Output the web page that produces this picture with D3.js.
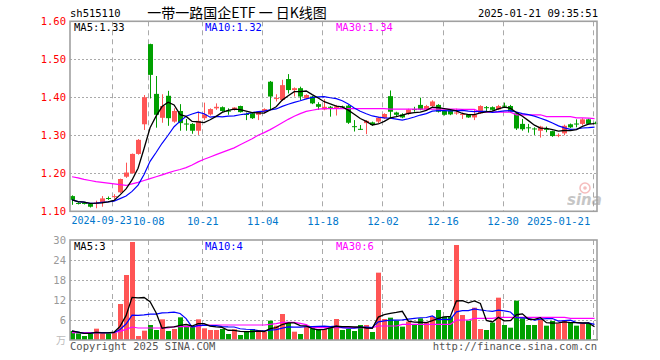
<!DOCTYPE html>
<html><head><meta charset="utf-8">
<script src="https://cdn.jsdelivr.net/npm/d3@7"></script>
<style>
body{margin:0;background:#fff;}
svg{display:block;}
.mono{font-family:"DejaVu Sans Mono","Liberation Mono",monospace;font-size:10px;}
</style>
</head><body>
<svg id="c" width="660" height="360"></svg>
<script>
// ---------- DATA ----------
const dates = ["2024-09-10","2024-09-11","2024-09-12","2024-09-13","2024-09-18","2024-09-19","2024-09-20","2024-09-23","2024-09-24","2024-09-25",
"2024-09-26","2024-09-27","2024-09-30","2024-10-08","2024-10-09","2024-10-10","2024-10-11","2024-10-14","2024-10-15","2024-10-16",
"2024-10-17","2024-10-18","2024-10-21","2024-10-22","2024-10-23","2024-10-24","2024-10-25","2024-10-28","2024-10-29","2024-10-30",
"2024-10-31","2024-11-01","2024-11-04","2024-11-05","2024-11-06","2024-11-07","2024-11-08","2024-11-11","2024-11-12","2024-11-13",
"2024-11-14","2024-11-15","2024-11-18","2024-11-19","2024-11-20","2024-11-21","2024-11-22","2024-11-25","2024-11-26","2024-11-27",
"2024-11-28","2024-11-29","2024-12-02","2024-12-03","2024-12-04","2024-12-05","2024-12-06","2024-12-09","2024-12-10","2024-12-11",
"2024-12-12","2024-12-13","2024-12-16","2024-12-17","2024-12-18","2024-12-19","2024-12-20","2024-12-23","2024-12-24","2024-12-25",
"2024-12-26","2024-12-27","2024-12-30","2024-12-31","2025-01-02","2025-01-03","2025-01-06","2025-01-07","2025-01-08","2025-01-09",
"2025-01-10","2025-01-13","2025-01-14","2025-01-15","2025-01-16","2025-01-17","2025-01-20","2025-01-21"];

const opens = [1.140,1.122,1.122,1.119,1.121,1.124,1.135,1.139,1.150,1.191,
1.200,1.251,1.329,1.540,1.409,1.346,1.404,1.336,1.364,1.331,
1.330,1.312,1.345,1.355,1.371,1.374,1.365,1.367,1.377,1.356,
1.358,1.354,1.362,1.441,1.396,1.393,1.448,1.419,1.424,1.397,
1.402,1.382,1.368,1.375,1.372,1.376,1.378,1.324,1.317,1.332,
1.334,1.336,1.345,1.403,1.360,1.355,1.356,1.369,1.380,1.368,
1.377,1.380,1.364,1.365,1.358,1.355,1.354,1.347,1.358,1.374,
1.374,1.368,1.378,1.377,1.358,1.330,1.321,1.318,1.312,1.317,
1.311,1.300,1.305,1.329,1.331,1.330,1.342,1.333];

const highs = [1.142,1.124,1.124,1.120,1.128,1.140,1.139,1.145,1.186,1.228,
1.252,1.290,1.406,1.541,1.456,1.408,1.417,1.371,1.382,1.343,
1.332,1.362,1.386,1.371,1.384,1.376,1.371,1.374,1.378,1.360,
1.360,1.364,1.371,1.443,1.408,1.446,1.461,1.426,1.428,1.408,
1.404,1.387,1.395,1.377,1.380,1.378,1.380,1.340,1.327,1.340,
1.336,1.349,1.358,1.418,1.362,1.358,1.370,1.375,1.399,1.380,
1.392,1.382,1.366,1.367,1.370,1.360,1.356,1.367,1.379,1.377,
1.376,1.380,1.386,1.380,1.360,1.343,1.330,1.321,1.325,1.323,
1.312,1.305,1.328,1.331,1.342,1.345,1.344,1.336];

const lows = [1.117,1.118,1.118,1.110,1.108,1.112,1.130,1.133,1.148,1.188,
1.199,1.249,1.314,1.397,1.320,1.333,1.325,1.333,1.312,1.312,
1.304,1.301,1.340,1.352,1.367,1.362,1.354,1.365,1.360,1.340,
1.343,1.340,1.358,1.367,1.389,1.390,1.410,1.402,1.393,1.395,
1.382,1.367,1.366,1.349,1.352,1.370,1.330,1.310,1.314,1.303,
1.325,1.332,1.343,1.345,1.350,1.345,1.354,1.362,1.366,1.366,
1.375,1.360,1.352,1.353,1.354,1.343,1.346,1.340,1.356,1.362,
1.365,1.366,1.372,1.360,1.314,1.312,1.307,1.301,1.294,1.308,
1.296,1.295,1.300,1.319,1.321,1.326,1.329,1.329];

const closes = [1.130,1.121,1.121,1.112,1.123,1.134,1.134,1.140,1.185,1.202,
1.251,1.288,1.400,1.459,1.354,1.377,1.345,1.364,1.332,1.330,
1.312,1.338,1.355,1.369,1.375,1.364,1.364,1.373,1.361,1.355,
1.345,1.362,1.369,1.402,1.398,1.432,1.419,1.424,1.402,1.406,
1.384,1.375,1.375,1.373,1.376,1.374,1.333,1.322,1.316,1.338,
1.327,1.346,1.356,1.362,1.354,1.347,1.368,1.367,1.368,1.377,
1.389,1.362,1.354,1.355,1.360,1.356,1.347,1.355,1.377,1.373,
1.367,1.377,1.377,1.362,1.318,1.316,1.320,1.317,1.323,1.316,
1.298,1.301,1.325,1.321,1.329,1.342,1.330,1.331];

// MA30 of price (needs history before the window)
const ma30Price = [1.191,1.188,1.184,1.181,1.178,1.176,1.174,1.172,1.170,1.168,
1.172,1.176,1.181,1.186,1.191,1.196,1.201,1.206,1.210,1.215,
1.222,1.230,1.237,1.243,1.249,1.255,1.261,1.267,1.275,1.283,
1.291,1.300,1.307,1.315,1.324,1.333,1.342,1.350,1.357,1.363,
1.366,1.369,1.370,1.370,1.370,1.370,1.370,1.370,1.370,1.370,
1.370,1.370,1.370,1.369,1.369,1.369,1.369,1.369,1.369,1.369,
1.369,1.369,1.369,1.369,1.369,1.368,1.368,1.368,1.361,1.361,
1.361,1.361,1.361,1.361,1.354,1.354,1.354,1.354,1.354,1.349,
1.349,1.349,1.349,1.349,1.346,1.346,1.345,1.344];

// volume (万手)
const volumes = [2.7,2.0,1.2,2.0,3.4,2.0,2.0,2.2,10.8,19.5,
29.4,1.2,2.8,4.5,3.0,6.2,2.7,3.3,6.8,4.2,
4.0,6.2,3.5,3.0,3.0,3.3,1.8,3.2,1.5,2.7,
3.3,2.8,2.5,5.8,4.3,7.8,5.2,2.5,1.8,4.0,
3.5,3.3,3.3,4.2,6.3,3.0,3.3,2.7,4.5,4.5,
2.4,20.2,6.3,6.7,5.8,4.0,5.5,4.8,6.5,5.3,
7.0,9.0,7.0,7.0,28.5,7.5,5.8,9.7,3.3,3.0,
5.2,12.7,4.5,3.7,11.8,6.5,4.5,4.5,6.2,4.3,
5.7,5.0,6.0,5.2,4.3,5.0,5.0,0.3];

const ma30Vol = [2.2,2.2,2.2,2.2,2.2,2.2,2.2,2.3,2.6,3.2,
3.9,3.6,3.6,3.6,3.6,3.6,3.6,4.0,4.0,4.0,
4.0,4.0,4.5,4.5,4.5,4.5,4.5,4.5,4.5,4.5,
4.5,4.5,4.5,4.7,4.9,5.3,5.3,5.3,5.0,4.6,
3.7,3.7,3.7,3.7,3.7,3.7,3.7,3.7,3.7,3.7,
3.7,4.2,4.2,4.2,4.2,4.7,4.7,4.7,4.7,4.7,
4.7,4.7,4.7,4.7,6.0,6.0,6.0,6.5,6.5,6.5,
6.5,6.8,6.8,6.8,6.8,6.8,6.8,6.8,6.8,6.8,
6.8,6.8,6.8,6.5,6.5,6.5,6.5,6.5];

const tickDates  = ["2024-09-23","2024-10-08","2024-10-21","2024-11-04","2024-11-18","2024-12-02","2024-12-16","2024-12-30","2025-01-21"];
const tickLabels = ["2024-09-23","10-08","10-21","11-04","11-18","12-02","12-16","12-30","2025-01-21"];
const priceTicks = [1.10,1.20,1.30,1.40,1.50,1.60];
const volTicks = [6,12,18,24,30];

const code = "sh515110";
const title = "一带一路国企ETF 一 日K线图";
const stamp = "2025-01-21 09:35:51";

// ---------- LAYOUT ----------
const L = 70, R = 597, pT = 21.3, pB = 211.3, vT = 240, vB = 340;
const RED = "#ff5555", GREEN = "#00a000", GRID = "#aaaaaa", FRAME = "#a0a0a0";

const svg = d3.select("#c");
const x = d3.scalePoint().domain(dates).range([72, 594.5]);
const y = d3.scaleLinear().domain([1.10, 1.60]).range([pB, pT]);
const yv = d3.scaleLinear().domain([0, 30]).range([vB, vT]);
const gx = d => Math.round(x(d) - 1.8) + 0.5;

const maOf = (arr, n) => arr.map((_, i) => d3.mean(arr.slice(Math.max(0, i - n + 1), i + 1)));
const ma5P = maOf(closes, 5), ma10P = maOf(closes, 10);
const ma5V = maOf(volumes, 5), ma10V = maOf(volumes, 10);

// header
svg.append("text").attr("class","mono").attr("x",70).attr("y",17).attr("fill","#000").style("font-size","10.5px").text(code);
svg.append("text").attr("x",237).attr("y",18).attr("text-anchor","middle").attr("xml:space","preserve")
  .style("font-family","'Noto Sans CJK SC',sans-serif").style("font-size","14px").style("white-space","pre").attr("fill","#000").text(title);
svg.append("text").attr("class","mono").attr("x",598).attr("y",17).attr("text-anchor","end").attr("fill","#000").style("font-size","10.5px").text(stamp);

// grids
function hgrid(vals, sc){
  svg.append("g").selectAll("line").data(vals).join("line")
    .attr("x1",L).attr("x2",R).attr("y1",d=>Math.round(sc(d))+0.5).attr("y2",d=>Math.round(sc(d))+0.5)
    .attr("stroke",GRID).attr("stroke-dasharray","2,2");
}
hgrid([1.20,1.30,1.40,1.50], y);
hgrid([6,12,18,24], yv);
function vgrid(t,b){
  svg.append("g").selectAll("line").data(tickDates).join("line")
    .attr("x1",gx).attr("x2",gx).attr("y1",t).attr("y2",b)
    .attr("stroke",GRID).attr("stroke-dasharray","5,4");
}
vgrid(pT, pB); vgrid(vT, vB);

// sina watermark
const wm = svg.append("g").attr("opacity",0.55);
wm.append("circle").attr("cx",585).attr("cy",188).attr("r",5).attr("fill","none").attr("stroke","#e88").attr("stroke-width",1.5);
wm.append("circle").attr("cx",585).attr("cy",188).attr("r",1.8).attr("fill","#e88");
wm.append("text").attr("x",567).attr("y",205).style("font-family","'DejaVu Sans',sans-serif").style("font-size","15px")
  .style("font-weight","bold").style("font-style","italic").attr("fill","#999").text("sina");

// candles
const idx = d3.range(dates.length);
const cg = svg.append("g");
idx.forEach(i => {
  const o = opens[i], c = closes[i], h = highs[i], l = lows[i];
  const col = c >= o ? RED : GREEN;
  const cx = Math.round(x(dates[i]));
  cg.append("line").attr("x1",cx+0.5).attr("x2",cx+0.5).attr("y1",y(h)).attr("y2",y(l)).attr("stroke",col);
  const top = y(Math.max(o,c)), bot = y(Math.min(o,c));
  cg.append("rect").attr("x",cx-2).attr("width",5).attr("y",top).attr("height",Math.max(1,bot-top)).attr("fill",col);
});

// price MA lines
function maLine(vals, sc, color, w){
  svg.append("path").datum(vals)
    .attr("d", d3.line().x((d,i)=>x(dates[i])).y(d=>sc(d)))
    .attr("fill","none").attr("stroke",color).attr("stroke-width",w);
}
maLine(ma30Price, y, "#ff00ff", 1.2);
maLine(ma10P, y, "#0000ff", 1.2);
maLine(ma5P, y, "#000000", 1.3);

// volume bars
svg.append("g").selectAll("rect").data(idx).join("rect")
  .attr("x", i => Math.round(x(dates[i])) - 2).attr("width",5)
  .attr("y", i => yv(volumes[i])).attr("height", i => vB - yv(volumes[i]))
  .attr("fill", i => closes[i] >= opens[i] ? RED : GREEN);
maLine(ma30Vol, yv, "#ff00ff", 1.2);
maLine(ma10V, yv, "#0000ff", 1.2);
maLine(ma5V, yv, "#000000", 1.3);

// frames
svg.append("rect").attr("x",L).attr("y",pT).attr("width",R-L).attr("height",pB-pT)
  .attr("fill","none").attr("stroke",FRAME).attr("stroke-width",1.6);
svg.append("rect").attr("x",L).attr("y",vT).attr("width",R-L).attr("height",vB-vT)
  .attr("fill","none").attr("stroke",FRAME).attr("stroke-width",1.6);

// axes
const ay = svg.append("g").attr("transform",`translate(${L},0)`)
  .call(d3.axisLeft(y).tickValues(priceTicks).tickFormat(d3.format(".2f")).tickSize(0).tickPadding(4));
ay.select(".domain").remove();
ay.selectAll("text").attr("class","mono").attr("fill","#ff0000").style("font-size","10.5px").attr("font-family",null);

const av = svg.append("g").attr("transform",`translate(${L},0)`)
  .call(d3.axisLeft(yv).tickValues(volTicks).tickFormat(d3.format("d")).tickSize(0).tickPadding(4));
av.select(".domain").remove();
av.selectAll("text").attr("class","mono").attr("fill","#999").style("font-size","10.5px").attr("font-family",null);

const ax = svg.append("g").attr("transform",`translate(-1.8,${pB})`)
  .call(d3.axisBottom(x).tickValues(tickDates).tickFormat((d,i)=>tickLabels[i]).tickSize(0).tickPadding(6));
ax.select(".domain").remove();
ax.selectAll("text").attr("class","mono").attr("fill","#0077cc").style("font-size","10.5px").attr("font-family",null);
ax.selectAll(".tick").filter((d,i)=>i===tickDates.length-1).select("text").attr("text-anchor","end").attr("dx",-3);
// first label is long: end it just before the 10-08 label so the two do not collide
ax.selectAll(".tick").filter((d,i)=>i===0).select("text").attr("text-anchor","end").attr("dx",19).style("font-size","10px");

// legends
const fl2 = v => (Math.floor(v*100+1e-6)/100).toFixed(2);
const last = a => a[a.length-1];
function legend(yy, t1, t2, t3){
  svg.append("text").attr("class","mono").attr("x",74).attr("y",yy).attr("fill","#000").style("font-size","10.5px").text(t1);
  svg.append("text").attr("class","mono").attr("x",205).attr("y",yy).attr("fill","#0000ff").style("font-size","10.5px").text(t2);
  svg.append("text").attr("class","mono").attr("x",336).attr("y",yy).attr("fill","#ff00ff").style("font-size","10.5px").text(t3);
}
legend(31, "MA5:"+fl2(last(ma5P)), "MA10:"+fl2(last(ma10P)), "MA30:"+fl2(last(ma30Price)));
legend(250, "MA5:"+Math.floor(last(ma5V)), "MA10:"+Math.floor(last(ma10V)), "MA30:"+Math.floor(last(ma30Vol)));

// footer
svg.append("text").attr("x",66).attr("y",344).attr("text-anchor","end")
  .style("font-family","'Noto Sans CJK SC',sans-serif").style("font-size","10px").attr("fill","#bbb").text("万");
svg.append("text").attr("class","mono").attr("x",70).attr("y",350).attr("fill","#555").style("font-size","10.5px").text("Copyright 2025 SINA.COM");
svg.append("text").attr("class","mono").attr("x",597).attr("y",350).attr("text-anchor","end").attr("fill","#555").style("font-size","10.5px").text("http://finance.sina.com.cn");
</script>
</body></html>
